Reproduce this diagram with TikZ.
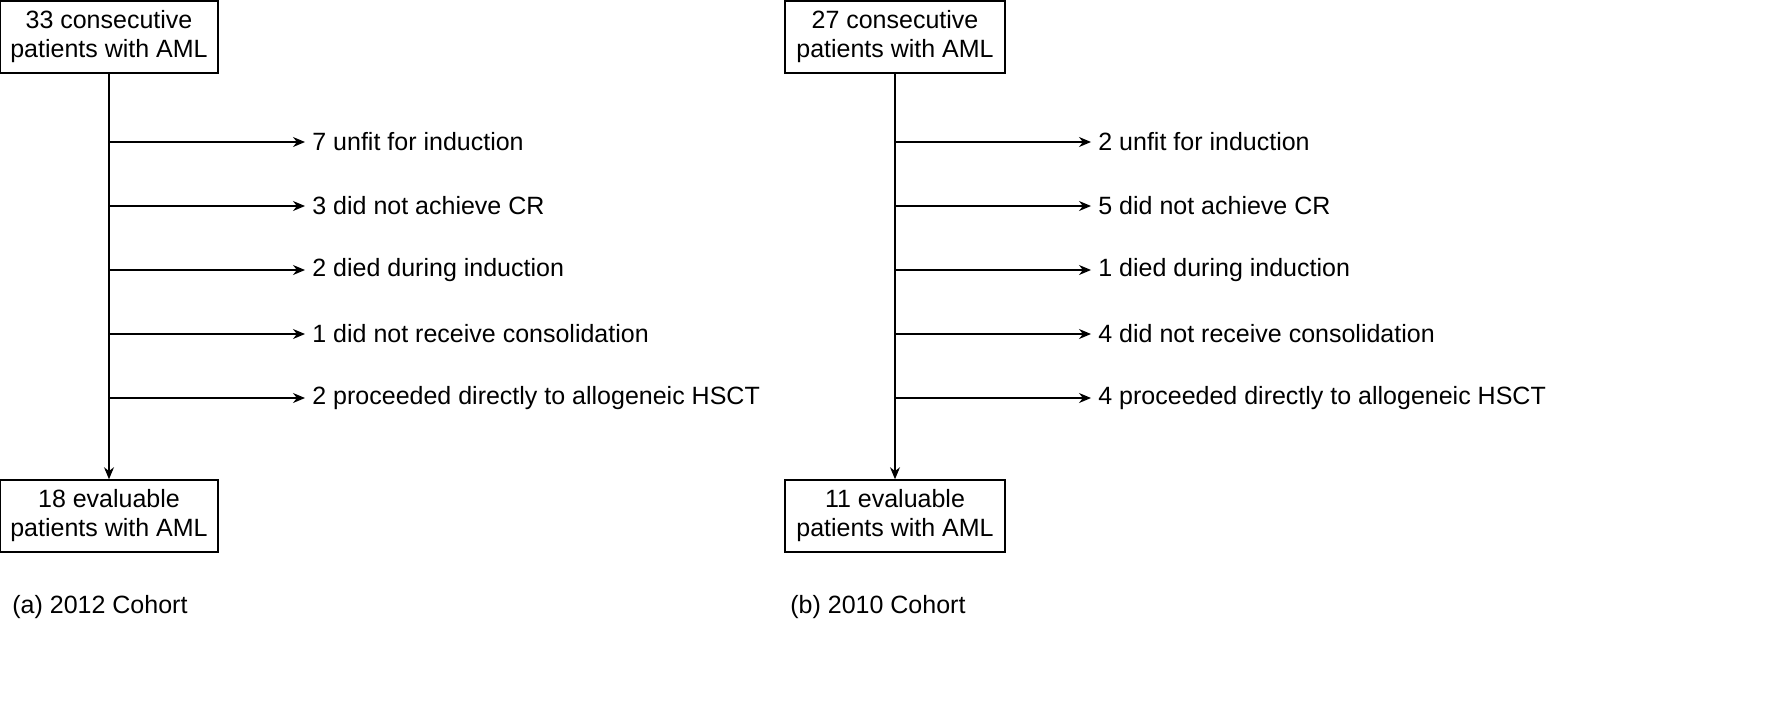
\documentclass[tikz,border=0pt]{standalone}
\usepackage{fontspec}
\setmainfont{Liberation Sans}
\usetikzlibrary{arrows.meta}
\begin{document}
\begin{tikzpicture}[x=0.5pt,y=-0.5pt,
  box/.style={draw,line width=0.8pt,align=center,font=\fontsize{12.5}{14.5}\selectfont,inner sep=0pt},
  lbl/.style={anchor=west,font=\fontsize{12.5}{14.5}\selectfont,inner sep=0pt},
  arr/.style={-{Stealth[length=6pt,width=5pt]},line width=0.6pt}]
\useasboundingbox (0,0) rectangle (1772,719);
\node[box,minimum width=109pt,minimum height=36pt] (a1) at (109,37) {33 consecutive\\patients with AML};
\node[box,minimum width=109pt,minimum height=36pt] (a2) at (109,516) {18 evaluable\\patients with AML};
\draw[arr] (a1.south) -- (a2.north);
\node[box,minimum width=110pt,minimum height=36pt] (b1) at (895,37) {27 consecutive\\patients with AML};
\node[box,minimum width=110pt,minimum height=36pt] (b2) at (895,516) {11 evaluable\\patients with AML};
\draw[arr] (b1.south) -- (b2.north);
\foreach \y/\t [count=\i] in {142/7 unfit for induction,206/3 did not achieve CR,270/2 died during induction,334/1 did not receive consolidation,398/2 proceeded directly to allogeneic HSCT}{
  \coordinate (ja\i) at (109,\y);
  \node[lbl] (la\i) at (312,\y) {\t};
  \draw[arr,shorten >=3.5pt] (ja\i) -- (la\i.west);
}
\foreach \y/\t [count=\i] in {142/2 unfit for induction,206/5 did not achieve CR,270/1 died during induction,334/4 did not receive consolidation,398/4 proceeded directly to allogeneic HSCT}{
  \coordinate (jb\i) at (895,\y);
  \node[lbl] (lb\i) at (1098,\y) {\t};
  \draw[arr,shorten >=3.5pt] (jb\i) -- (lb\i.west);
}
\node[lbl] (ca) at (12,607) {(a) 2012 Cohort};
\node[lbl] (cb) at (790,607) {(b) 2010 Cohort};
\end{tikzpicture}
\end{document}
